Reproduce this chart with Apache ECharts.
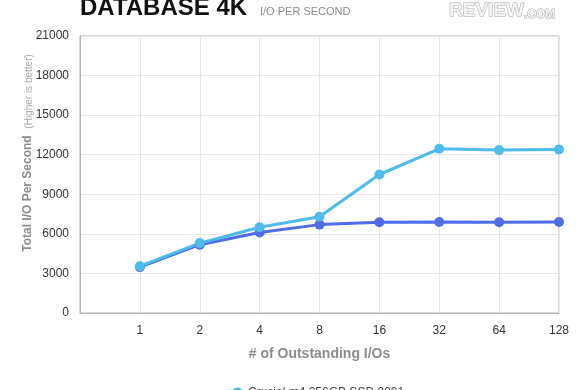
<!DOCTYPE html>
<html><head><meta charset="utf-8">
<script src="https://cdn.jsdelivr.net/npm/echarts@6/dist/echarts.min.js"></script>
<style>html,body{margin:0;padding:0;background:#fff}#c{width:580px;height:390px}</style>
</head><body><div id="c"></div>
<script>
const categories = ['', '1', '2', '4', '8', '16', '32', '64', '128'];
const seriesNames = ['Crucial m4 256GB SSD 0001', 'Crucial m4 256GB SSD 0009'];
const fw0001 = [null, 3550, 5300, 6500, 7300, 10500, 12450, 12350, 12400];
const fw0009 = [null, 3480, 5180, 6100, 6700, 6880, 6900, 6880, 6900];
const yTicks = {min: 0, max: 21000, interval: 3000};

const chart = echarts.init(document.getElementById('c'));
const F = 'Liberation Sans, Arial, sans-serif';
chart.setOption({
  animation: false,
  backgroundColor: '#fff',
  grid: {left: 80, right: 21, top: 36, bottom: 77, show: true, borderColor: '#b5b5b5', borderWidth: 1},
  xAxis: {
    type: 'category', data: categories, boundaryGap: false,
    axisLine: {show: true, lineStyle: {color: '#b5b5b5'}},
    axisTick: {show: false},
    axisLabel: {color: '#333', fontSize: 12, fontFamily: F, margin: 12, interval: 0},
    splitLine: {show: true, lineStyle: {color: '#e6e6e6'}},
    name: '# of Outstanding I/Os', nameLocation: 'middle', nameGap: 34,
    nameTextStyle: {color: '#8c8c8c', fontSize: 14, fontWeight: 'bold', fontFamily: F}
  },
  yAxis: {
    type: 'value', min: yTicks.min, max: yTicks.max, interval: yTicks.interval,
    axisLine: {show: true, lineStyle: {color: '#b5b5b5'}},
    axisTick: {show: false},
    axisLabel: {color: '#333', fontSize: 12, fontFamily: F, margin: 11, formatter: v => String(v)},
    splitLine: {show: true, lineStyle: {color: '#e6e6e6'}}
  },
  legend: {
    orient: 'vertical', left: 227, top: 382, height: 80, itemGap: 8,
    icon: 'circle', itemWidth: 11, itemHeight: 11,
    data: seriesNames,
    textStyle: {color: '#444', fontSize: 12, fontFamily: F}
  },
  graphic: [
    {type: 'text', x: 80, y: 8, style: {text: 'DATABASE 4K', font: 'bold 24px ' + F, fill: '#111', verticalAlign: 'middle'}},
    {type: 'text', x: 260, y: 12, style: {text: 'I/O PER SECOND', font: '11px ' + F, fill: '#8c8c8c', verticalAlign: 'middle'}},
    {type: 'text', x: 449, y: 11, style: {verticalAlign: 'middle', rich: {a: {font: 'bold 19px ' + F, fill: '#f4f4f4', stroke: '#a8a8a8', lineWidth: 1, verticalAlign: 'bottom', lineHeight: 19}, b: {font: 'bold 12px ' + F, fill: '#f4f4f4', stroke: '#a8a8a8', lineWidth: 1, verticalAlign: 'bottom', lineHeight: 19}}, text: '{a|REVIEW}{b|.COM}'}},
    {type: 'text', x: 27, y: 153, rotation: Math.PI / 2,
     style: {align: 'center', verticalAlign: 'middle',
       rich: {a: {font: 'bold 12px ' + F, fill: '#8c8c8c', verticalAlign: 'bottom', lineHeight: 14}, b: {font: '10px ' + F, fill: '#aaaaaa', verticalAlign: 'bottom', lineHeight: 14}},
       text: '{a|Total I/O Per Second}  {b|(Higher is better)}'}}
  ],
  series: [
    {name: seriesNames[1], type: 'line', data: fw0009, symbol: 'circle', symbolSize: 10,
     itemStyle: {color: '#4e6de6'}, lineStyle: {width: 3, color: '#4e6de6'}},
    {name: seriesNames[0], type: 'line', data: fw0001, symbol: 'circle', symbolSize: 10,
     itemStyle: {color: '#4dbbec'}, lineStyle: {width: 3, color: '#4dbbec'}}
  ]
});
</script></body></html>
